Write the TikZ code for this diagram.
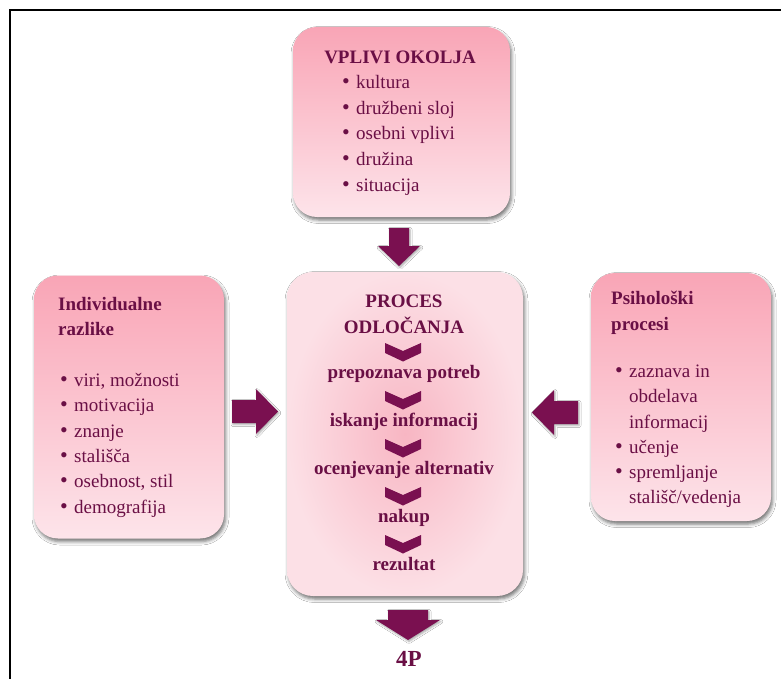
\documentclass[tikz,border=0pt]{standalone}
\usepackage{fontspec}
\setmainfont{Liberation Serif}
\newfontfamily\serf{Liberation Serif}
\usetikzlibrary{shadows.blur}
\definecolor{txt}{HTML}{6A0F45}
\definecolor{arr}{HTML}{7A1050}
\definecolor{pinkA}{HTML}{F9A5B6}
\definecolor{pinkB}{HTML}{FDE4EA}
\definecolor{pinkC}{HTML}{F8B6C3}
\definecolor{pinkD}{HTML}{FCE0E6}
\tikzset{
  boxshadow/.style={blur shadow={shadow xshift=1.5pt, shadow yshift=-3pt, shadow blur radius=3.5pt, shadow opacity=55}},
  sidebox/.style={rounded corners=24pt, top color=pinkA, bottom color=pinkB, draw=none, boxshadow, inner sep=0pt},
  midbox/.style={rounded corners=26pt, inner color=pinkC, outer color=pinkD, draw=none, boxshadow, inner sep=0pt},
  item/.style={anchor=base west, inner sep=0pt, text=txt, font=\serf\fontsize{19}{23}\selectfont},
  bul/.style={anchor=base west, inner sep=0pt, text=txt, font=\serf\fontsize{22}{23}\selectfont},
  head/.style={anchor=base west, inner sep=0pt, text=txt, font=\serf\bfseries\fontsize{19}{23}\selectfont},
  ctext/.style={anchor=base, inner sep=0pt, text=txt, font=\serf\bfseries\fontsize{19}{23}\selectfont},
  blockarrow/.style={fill=arr, draw=none, blur shadow={shadow xshift=1pt, shadow yshift=-1.5pt, shadow blur radius=2pt, shadow opacity=35}},
  chev/.pic={\fill[arr] (-18,0) -- (0,8) -- (18,0) -- (18,10) -- (0,18.5) -- (-18,10) -- cycle;}
}
\begin{document}
\begin{tikzpicture}[x=1pt,y=-1pt]
\useasboundingbox (0,0) rectangle (781,679);
\fill[white] (0,0) rectangle (781,679);
% frame
\draw[line width=2pt, black] (10,679) -- (10,10) -- (781,10);

% boxes
\node[sidebox, minimum width=217pt, minimum height=190pt] (top) at (401.5,122) {};
\node[midbox, minimum width=236pt, minimum height=324pt] (mid) at (405,434) {};
\node[sidebox, minimum width=190pt, minimum height=263pt] (left) at (129,407) {};
\node[sidebox, minimum width=180pt, minimum height=248pt] (right) at (681,397) {};

% block arrows
\path[blockarrow] (389,228) -- (409,228) -- (409,246) -- (420,246) -- (399,266) -- (378,246) -- (389,246) -- cycle;
\path[blockarrow] (232,400) -- (256,400) -- (256,389) -- (278,411.5) -- (256,434) -- (256,423) -- (232,423) -- cycle;
\path[blockarrow] (578,401) -- (554,401) -- (554,390) -- (532,412.5) -- (554,435) -- (554,424) -- (578,424) -- cycle;
\path[blockarrow] (388,610) -- (428,610) -- (428,620) -- (440,620) -- (408,640) -- (376,620) -- (388,620) -- cycle;

% top box text
\node[anchor=base, inner sep=0pt, text=txt, font=\serf\bfseries\fontsize{19}{23}\selectfont] (th) at (400,64) {VPLIVI\ OKOLJA};
\foreach \t/\yy [count=\i] in {kultura/89, družbeni sloj/114.5, osebni vplivi/140, družina/165.5, situacija/191}{
  \node[bul] (tb\i) at (342,\yy) {•};
  \node[item] (ti\i) at (356,\yy) {\t};
}

% centre box text
\node[ctext] (c1) at (404,307) {PROCES};
\node[ctext] (c2) at (404,333) {ODLOČANJA};
\foreach \t/\yy [count=\i] in {prepoznava potreb/378, iskanje informacij/426, ocenjevanje alternativ/474, nakup/522, rezultat/570}{
  \pic at (403,\yy-35) {chev};
  \node[ctext] (cs\i) at (404,\yy) {\t};
}

% left box text
\node[head] (lh1) at (58,310) {Individualne};
\node[head] (lh2) at (58,335) {razlike};
\foreach \t/\yy [count=\i] in {{viri, možnosti}/386, motivacija/411, znanje/437, stališča/462, {osebnost, stil}/487, demografija/513}{
  \node[bul] (lb\i) at (60,\yy) {•};
  \node[item] (li\i) at (74,\yy) {\t};
}

% right box text
\node[head] (rh1) at (611,304) {Psihološki};
\node[head] (rh2) at (611,330) {procesi};
\node[item] (ri1) at (629,377) {zaznava in};
\node[item] (ri2) at (629,402) {obdelava};
\node[item] (ri3) at (629,428) {informacij};
\node[item] (ri4) at (629,453) {učenje};
\node[item] (ri5) at (629,478) {spremljanje};
\node[item] (ri6) at (629,503) {stališč/vedenja};
\node[bul] (rb1) at (615,377) {•};
\node[bul] (rb2) at (615,453) {•};
\node[bul] (rb3) at (615,478) {•};

% 4P
\node[anchor=base, inner sep=0pt, text=txt, font=\serf\bfseries\fontsize{23}{26}\selectfont] (fourp) at (409,666) {4P};
\end{tikzpicture}
\end{document}
